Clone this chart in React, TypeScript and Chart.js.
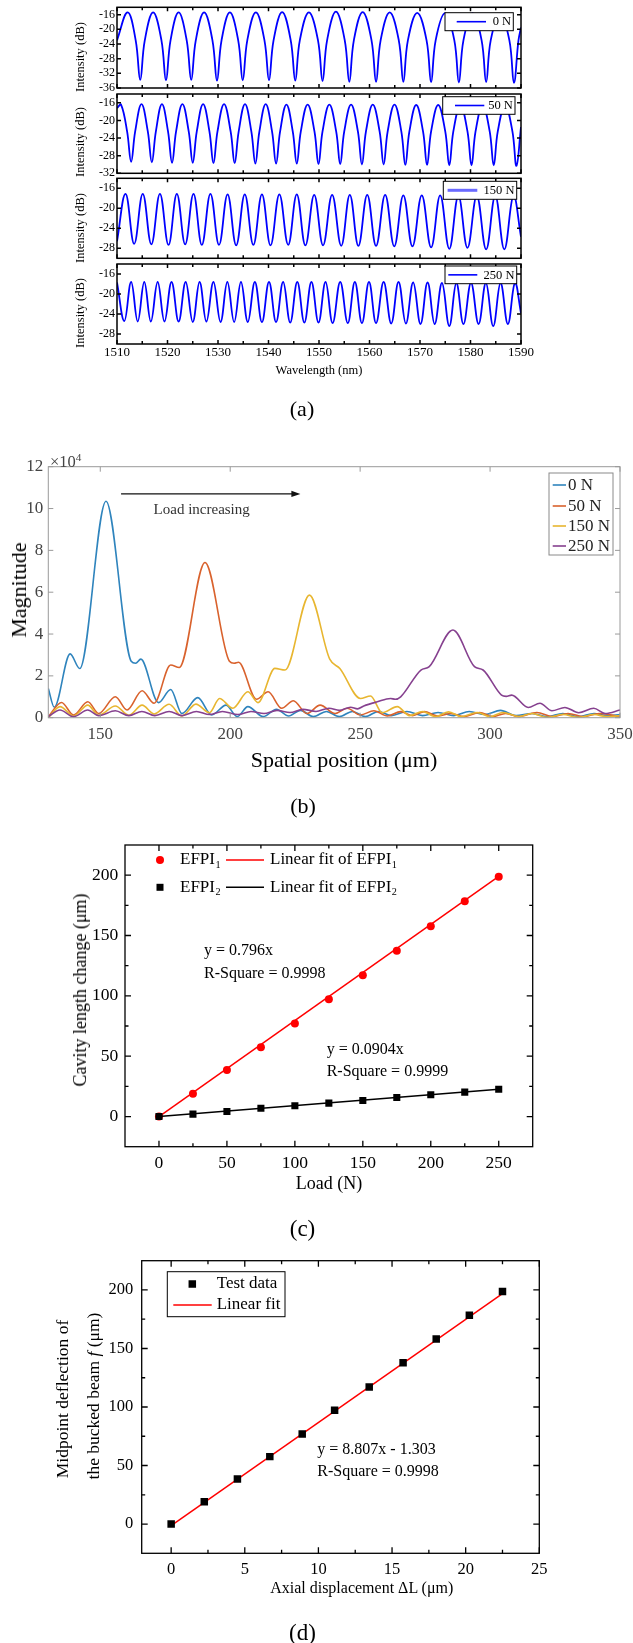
import React, { useEffect, useRef } from 'react';
import { Chart, registerables } from 'chart.js';
Chart.register(...registerables);

const SERIF = "'Liberation Serif', 'Times New Roman', serif";

// ---------------- Panel (a): transmission spectra [wavelength (nm), intensity (dB)]
const A_0N: [number, number][] = [
  [1510, -23.0], [1512.1, -15.4], [1513.7, -23.0], [1514.6, -33.8], [1515.5, -23.0], [1517.15, -15.4],
  [1518.8, -23.0], [1519.7, -33.9], [1520.6, -23.0], [1522.2, -15.4], [1523.8, -23.0], [1524.7, -33.8],
  [1525.6, -23.0], [1527.25, -15.4], [1528.9, -23.0], [1529.8, -34.0], [1530.7, -23.0], [1532.35, -15.4],
  [1534.0, -23.0], [1534.9, -33.9], [1535.8, -23.0], [1537.5, -15.4], [1539.2, -23.0], [1540.1, -33.9],
  [1541.0, -23.0], [1542.7, -15.3], [1544.4, -23.0], [1545.3, -34.0], [1546.2, -23.0], [1548.0, -15.4],
  [1549.8, -23.0], [1550.7, -34.1], [1551.6, -23.0], [1553.35, -15.2], [1555.1, -23.0], [1556.0, -34.3],
  [1556.9, -23.0], [1558.65, -15.3], [1560.4, -23.0], [1561.3, -34.3], [1562.2, -23.0], [1564.0, -15.4],
  [1565.8, -23.0], [1566.7, -34.3], [1567.6, -23.0], [1569.45, -15.5], [1571.3, -23.0], [1572.2, -34.4],
  [1573.1, -23.0], [1574.95, -15.6], [1576.8, -23.0], [1577.7, -34.5], [1578.6, -23.0], [1580.4, -15.6],
  [1582.2, -23.0], [1583.1, -34.4], [1584.0, -23.0], [1585.85, -15.7], [1587.7, -23.0], [1588.6, -34.6],
  [1589.5, -23.0], [1590, -19.5],
];
const A_50N: [number, number][] = [
  [1510, -17.2], [1510.8, -16.4], [1512.0, -22.5], [1512.8, -29.4], [1513.6, -22.5], [1514.85, -16.3],
  [1516.1, -22.5], [1516.9, -29.5], [1517.7, -22.5], [1518.9, -16.3], [1520.1, -22.5], [1520.9, -29.6],
  [1521.7, -22.5], [1522.95, -16.3], [1524.2, -22.5], [1525.0, -29.6], [1525.8, -22.5], [1527.05, -16.3],
  [1528.3, -22.5], [1529.1, -29.7], [1529.9, -22.5], [1531.2, -16.3], [1532.5, -22.5], [1533.3, -29.7],
  [1534.1, -22.5], [1535.35, -16.3], [1536.6, -22.5], [1537.4, -29.8], [1538.2, -22.5], [1539.45, -16.3],
  [1540.7, -22.5], [1541.5, -29.8], [1542.3, -22.5], [1543.55, -16.4], [1544.8, -22.5], [1545.6, -29.8],
  [1546.4, -22.5], [1547.75, -16.4], [1549.1, -22.5], [1549.9, -29.9], [1550.7, -22.5], [1552.05, -16.4],
  [1553.4, -22.5], [1554.2, -29.9], [1555.0, -22.5], [1556.35, -16.4], [1557.7, -22.5], [1558.5, -30.0],
  [1559.3, -22.5], [1560.65, -16.4], [1562.0, -22.5], [1562.8, -30.0], [1563.6, -22.5], [1564.95, -16.4],
  [1566.3, -22.5], [1567.1, -30.1], [1567.9, -22.5], [1569.25, -16.5], [1570.6, -22.5], [1571.4, -30.1],
  [1572.2, -22.5], [1573.6, -16.5], [1575.0, -22.5], [1575.8, -30.2], [1576.6, -22.5], [1578.0, -16.5],
  [1579.4, -22.5], [1580.2, -30.2], [1581.0, -22.5], [1582.4, -16.5], [1583.8, -22.5], [1584.6, -30.2],
  [1585.4, -22.5], [1586.85, -16.5], [1588.3, -22.5], [1589.1, -30.3], [1590, -21.5],
];
const A_150N: [number, number][] = [
  [1510, -26.6], [1511.7, -17.1], [1513.4, -27.1], [1515.1, -17.1], [1516.8, -27.2], [1518.5, -17.1],
  [1520.2, -27.3], [1521.85, -17.1], [1523.5, -27.2], [1525.15, -17.1], [1526.8, -27.3], [1528.5, -17.1],
  [1530.2, -27.3], [1531.9, -17.2], [1533.6, -27.4], [1535.3, -17.2], [1537.0, -27.3], [1538.7, -17.2],
  [1540.4, -27.4], [1542.15, -17.2], [1543.9, -27.3], [1545.6, -17.2], [1547.3, -27.4], [1549.05, -17.3],
  [1550.8, -27.4], [1552.6, -17.3], [1554.4, -27.5], [1556.1, -17.3], [1557.8, -27.5], [1559.55, -17.3],
  [1561.3, -27.5], [1563.1, -17.3], [1564.9, -27.6], [1566.7, -17.4], [1568.5, -27.6], [1570.35, -17.4],
  [1572.2, -27.8], [1574.0, -17.4], [1575.8, -28.1], [1577.6, -17.5], [1579.4, -27.9], [1581.25, -17.5],
  [1583.1, -28.2], [1584.9, -17.5], [1586.7, -28.2], [1588.5, -17.5], [1590, -25.7],
];
const A_250N: [number, number][] = [
  [1510, -17.7], [1511.45, -25.4], [1512.8, -17.6], [1514.1, -25.5], [1515.4, -17.6], [1516.7, -25.5],
  [1518.05, -17.6], [1519.4, -25.5], [1520.8, -17.6], [1522.2, -25.5], [1523.6, -17.6], [1525.0, -25.6],
  [1526.35, -17.6], [1527.7, -25.5], [1529.1, -17.6], [1530.5, -25.6], [1531.85, -17.6], [1533.2, -25.6],
  [1534.55, -17.6], [1535.9, -25.6], [1537.3, -17.6], [1538.7, -25.6], [1540.1, -17.6], [1541.5, -25.6],
  [1542.9, -17.6], [1544.3, -25.7], [1545.7, -17.6], [1547.1, -25.7], [1548.5, -17.6], [1549.9, -25.7],
  [1551.3, -17.6], [1552.7, -25.8], [1554.2, -17.6], [1555.7, -25.8], [1557.1, -17.6], [1558.5, -25.8],
  [1559.9, -17.6], [1561.3, -25.8], [1562.8, -17.6], [1564.3, -25.9], [1565.75, -17.6], [1567.2, -25.9],
  [1568.65, -17.7], [1570.1, -26.0], [1571.5, -17.7], [1572.9, -26.0], [1574.35, -17.8], [1575.8, -26.4],
  [1577.2, -17.8], [1578.6, -26.0], [1580.1, -17.8], [1581.6, -26.0], [1583.05, -17.8], [1584.5, -26.4],
  [1585.95, -17.8], [1587.4, -26.0], [1588.8, -17.8], [1590, -23.8],
];
const A_SERIES = [A_0N, A_50N, A_150N, A_250N];
const A_LABELS = ['0 N', '50 N', '150 N', '250 N'];
const A_YMIN = [-36, -32, -30, -30];
const A_YMAX = [-14, -14, -14, -14];
const A_YTICKS = [
  [-16, -20, -24, -28, -32, -36],
  [-16, -20, -24, -28, -32],
  [-16, -20, -24, -28],
  [-16, -20, -24, -28],
];
const A_XTICKS = [1510, 1520, 1530, 1540, 1550, 1560, 1570, 1580, 1590];
const A_XMINOR = [1515, 1525, 1535, 1545, 1555, 1565, 1575, 1585];

// ---------------- Panel (b): FFT magnitude [spatial position (um), magnitude (x1e4)]
const B_0N: [number, number][] = [
  [130, 1.4], [132.3, 0.5], [138.4, 3.05], [142.1, 2.35], [152.2, 10.35], [161.9, 2.7], [163.6, 2.6],
  [165.6, 2.8], [172.4, 0.72], [177.1, 1.35], [181.4, 0.2], [187.5, 0.96], [192.9, 0.13], [198.4, 0.6],
  [202.7, 0.05], [206.8, 0.53], [212.7, 0.05], [217.8, 0.4], [222.5, 0.08], [227, 0.35], [232, 0.05],
  [237, 0.3], [242, 0.05], [247, 0.3], [252, 0.05], [257, 0.3], [262, 0.1], [268, 0.3], [274, 0.1],
  [280, 0.25], [286, 0.1], [292, 0.3], [298, 0.15], [304, 0.35], [310, 0.1], [316, 0.2], [322, 0.05],
  [328, 0.2], [334, 0.05], [340, 0.2], [345, 0.1], [350, 0.15],
];
const B_50N: [number, number][] = [
  [130, 0.05], [135.1, 0.73], [139.7, 0.13], [145.2, 0.76], [149.4, 0.2], [155.8, 1.0], [160.3, 0.37],
  [166.1, 1.29], [170.7, 0.69], [177.1, 2.52], [180.4, 2.4], [190.3, 7.42], [199.7, 2.7], [201.5, 2.6],
  [203.2, 2.65], [210.1, 0.88], [214.6, 1.24], [219.8, 0.45], [224.3, 0.81], [229.5, 0.2], [234.6, 0.6],
  [240.4, 0.2], [245, 0.45], [250.1, 0.13], [255.3, 0.33], [260.5, 0.08], [265.6, 0.29], [270.2, 0.1],
  [274.7, 0.29], [279.8, 0.08], [285, 0.2], [290, 0.05], [296, 0.25], [301, 0.05], [306, 0.2],
  [311, 0.05], [318, 0.25], [324, 0.05], [330, 0.2], [336, 0.05], [342, 0.2], [350, 0.05],
];
const B_150N: [number, number][] = [
  [130, 0.0], [134.5, 0.53], [139.7, 0.08], [145.2, 0.6], [149.4, 0.12], [155.8, 0.56], [161, 0.12],
  [166.1, 0.6], [170.7, 0.18], [176.5, 0.64], [181.4, 0.08], [186.8, 0.65], [192, 0.24], [195.9, 0.92],
  [201, 0.45], [206.8, 1.24], [210.7, 0.72], [217.2, 2.36], [221.1, 2.28], [230.5, 5.86], [238.3, 2.8],
  [242.2, 2.35], [250.1, 0.92], [254, 1.04], [258.5, 0.24], [264.3, 0.53], [269, 0.1], [274, 0.3],
  [279, 0.05], [284, 0.28], [289, 0.05], [295, 0.25], [300, 0.05], [305, 0.25], [311, 0.05], [316, 0.2],
  [322, 0.02], [328, 0.15], [334, 0.02], [340, 0.15], [345, 0.05], [350, 0.1],
];
const B_250N: [number, number][] = [
  [130, 0.05], [134.5, 0.37], [139.7, 0.05], [145.2, 0.37], [149.4, 0.1], [155.8, 0.33], [161, 0.1],
  [166, 0.3], [171, 0.1], [176.5, 0.3], [181.5, 0.1], [187, 0.3], [192, 0.15], [197, 0.3], [203, 0.15],
  [208, 0.3], [213, 0.2], [218, 0.35], [223, 0.25], [228, 0.4], [233, 0.3], [238, 0.45], [242, 0.35],
  [246.3, 0.5], [249, 0.42], [251.4, 0.56], [256.6, 0.76], [261.7, 0.92], [263.5, 0.88], [265.6, 1.0],
  [273.4, 2.28], [276.6, 2.44], [285.7, 4.19], [294, 2.44], [297.3, 2.28], [304.4, 1.08], [306.2, 1.02],
  [308.3, 1.08], [314.7, 0.49], [319.2, 0.69], [323.8, 0.33], [328.8, 0.49], [334.1, 0.24], [339.9, 0.45],
  [344.3, 0.2], [350, 0.37],
];
const B_SERIES = [B_0N, B_50N, B_150N, B_250N];
const B_LABELS = ['0 N', '50 N', '150 N', '250 N'];
const B_COLORS = ['#2f84bd', '#d9622d', '#e8b630', '#86418f'];
const B_XTICKS = [150, 200, 250, 300, 350];
const B_YTICKS = [0, 2, 4, 6, 8, 10, 12];
const B_ARROW_X = [158, 227];
const B_ARROW_Y = 10.7;

// ---------------- Panel (c): cavity length change vs load
const C_LOAD = [0, 25, 50, 75, 100, 125, 150, 175, 200, 225, 250];
const C_EFPI1 = [0, 18.8, 38.6, 57.4, 77.0, 97.2, 117.0, 137.4, 157.6, 178.3, 198.7];
const C_EFPI2 = [0, 2.0, 4.1, 6.9, 8.9, 11.1, 13.3, 15.7, 18.0, 20.2, 22.6];
const C_FIT_X = [0, 250];
const C_FIT1_Y = [0, 199.0];
const C_FIT2_Y = [0, 22.6];
const C_XTICKS = [0, 50, 100, 150, 200, 250];
const C_XMINOR = [25, 75, 125, 175, 225];
const C_YTICKS = [0, 50, 100, 150, 200];
const C_YMINOR = [25, 75, 125, 175];

// ---------------- Panel (d): midpoint deflection vs axial displacement
const D_DISP = [0, 2.25, 4.5, 6.7, 8.9, 11.1, 13.45, 15.75, 18.0, 20.25, 22.5];
const D_DEFL = [0, 19.0, 38.5, 57.6, 77.0, 97.2, 117.1, 137.8, 158.0, 178.3, 198.6];
const D_FIT_X = [0, 22.5];
const D_FIT_Y = [-1.3, 196.8];
const D_XTICKS = [0, 5, 10, 15, 20, 25];
const D_XMINOR = [2.5, 7.5, 12.5, 17.5, 22.5];
const D_YTICKS = [0, 50, 100, 150, 200];
const D_YMINOR = [25, 75, 125, 175];

// ---------------- helpers
const scale = (min: number, max: number, vals: number[], size: number, color: string, pad: number,
  fix: (s: any) => void, display = true) => ({
  type: 'linear', min, max, display,
  afterBuildTicks: (s: any) => { s.ticks = vals.map((v) => ({ value: v })); },
  ticks: {
    font: { size, family: SERIF }, color, padding: pad, autoSkip: false, maxRotation: 0, minRotation: 0,
    includeBounds: false, callback: (v: any) => String(v),
  },
  grid: { display: false, drawTicks: false },
  border: { display: false },
  afterFit: (s: any) => { fix(s); s.paddingTop = 0; s.paddingBottom = 0; s.paddingLeft = 0; s.paddingRight = 0; },
});

const decor = (cfg: any) => ({
  id: 'decor',
  afterDatasetsDraw(chart: any) {
    const { ctx, chartArea: a } = chart;
    const xs = chart.scales.x, ys = chart.scales.y;
    ctx.save();
    ctx.strokeStyle = cfg.color;
    ctx.lineWidth = cfg.width;
    ctx.beginPath();
    const xt = (vals: number[], len: number) => vals.forEach((v) => {
      const p = xs.getPixelForValue(v);
      ctx.moveTo(p, a.bottom); ctx.lineTo(p, a.bottom - len);
      ctx.moveTo(p, a.top); ctx.lineTo(p, a.top + len);
    });
    const yt = (vals: number[], len: number) => vals.forEach((v) => {
      const p = ys.getPixelForValue(v);
      ctx.moveTo(a.left, p); ctx.lineTo(a.left + len, p);
      ctx.moveTo(a.right, p); ctx.lineTo(a.right - len, p);
    });
    xt(cfg.xMajor || [], cfg.major); xt(cfg.xMinor || [], cfg.minor);
    yt(cfg.yMajor || [], cfg.major); yt(cfg.yMinor || [], cfg.minor);
    ctx.stroke();
    ctx.strokeRect(a.left, a.top, a.right - a.left, a.bottom - a.top);
    ctx.restore();
    if (cfg.extra) { ctx.save(); cfg.extra(ctx, a, xs, ys); ctx.restore(); }
  },
});

const pts = (s: [number, number][]) => s.map(([x, y]) => ({ x, y }));
const zip = (xs: number[], ys: number[]) => xs.map((x, i) => ({ x, y: ys[i] }));

const baseOpts = (padding: any, scales: any) => ({
  responsive: false, maintainAspectRatio: false, animation: false, events: [],
  layout: { padding },
  plugins: { legend: { display: false }, tooltip: { enabled: false }, title: { display: false } },
  scales,
});

// legend boxes of panel (a) (box geometry relative to plot area)
const A_LEG = [
  { r: 7.7, t: 5.4, w: 68.3, h: 18, l0: 11.7, l1: 41, thick: false },
  { r: 6, t: 2.7, w: 72.3, h: 17.6, l0: 12.3, l1: 41.6, thick: false },
  { r: 4.3, t: 3, w: 73.4, h: 18, l0: 4.3, l1: 34, thick: true },
  { r: 4.3, t: 2, w: 71.7, h: 17.7, l0: 3.3, l1: 32.3, thick: false },
];
const A_AREA = [
  { top: 0, h: 92, pt: 7.3, pb: 4 },
  { top: 90, h: 88, pt: 4, pb: 4.7 },
  { top: 175, h: 88, pt: 3.3, pb: 4.7 },
  { top: 260, h: 104, pt: 4, pb: 0 },
];

const makeA = (i: number) => () => {
  const L = A_LEG[i];
  const last = i === 3;
  return {
    type: 'line',
    data: { datasets: [{ data: pts(A_SERIES[i]), borderColor: '#0000ff', borderWidth: 1.8, pointRadius: 0, tension: 0.4, fill: false }] },
    options: baseOpts({ left: 0, right: 112, top: A_AREA[i].pt, bottom: A_AREA[i].pb }, {
      x: scale(1510, 1590, A_XTICKS, 13, '#000', 1, (s) => { s.height = last ? 20 : 0; }, last),
      y: scale(A_YMIN[i], A_YMAX[i], A_YTICKS[i], 12, '#000', 2, (s) => { s.width = 117; }),
    }),
    plugins: [decor({
      color: '#000', width: 1.5, major: 4, minor: 3, xMajor: A_XTICKS, xMinor: A_XMINOR, yMajor: A_YTICKS[i],
      extra: (ctx: any, a: any) => {
        const bx = a.right - L.r - L.w, by = a.top + L.t;
        ctx.fillStyle = '#fff'; ctx.fillRect(bx, by, L.w, L.h);
        ctx.strokeStyle = '#000'; ctx.lineWidth = 1; ctx.strokeRect(bx, by, L.w, L.h);
        ctx.strokeStyle = L.thick ? '#6a6aff' : '#0000ff'; ctx.lineWidth = L.thick ? 3 : 1.6;
        ctx.beginPath(); ctx.moveTo(bx + L.l0, by + L.h / 2); ctx.lineTo(bx + L.l1, by + L.h / 2); ctx.stroke();
        ctx.fillStyle = '#000'; ctx.font = `12.5px ${SERIF}`; ctx.textAlign = 'right'; ctx.textBaseline = 'middle';
        ctx.fillText(A_LABELS[i], bx + L.w - 2.2, by + L.h / 2 + 0.5);
      },
    })],
  };
};

const makeB = () => ({
  type: 'line',
  data: {
    datasets: B_SERIES.map((s, k) => ({
      data: pts(s), borderColor: B_COLORS[k], borderWidth: 1.6, pointRadius: 0,
      cubicInterpolationMode: 'monotone', fill: false, order: 3 - k,
    })),
  },
  options: baseOpts({ left: 0, right: 13, top: 26.7, bottom: 0 }, {
    x: scale(130, 350, B_XTICKS, 17, '#444', 7.1, (s) => { s.height = 82.3; }),
    y: scale(0, 12, B_YTICKS, 17, '#444', 5, (s) => { s.width = 48.3; }),
  }),
  plugins: [decor({
    color: '#9a9a9a', width: 1, major: 5, minor: 0, xMajor: B_XTICKS, yMajor: B_YTICKS,
    extra: (ctx: any, a: any, xs: any, ys: any) => {
      const y = ys.getPixelForValue(B_ARROW_Y);
      const x0 = xs.getPixelForValue(B_ARROW_X[0]), x1 = xs.getPixelForValue(B_ARROW_X[1]);
      ctx.strokeStyle = '#111'; ctx.fillStyle = '#111'; ctx.lineWidth = 1.3;
      ctx.beginPath(); ctx.moveTo(x0, y); ctx.lineTo(x1 - 6, y); ctx.stroke();
      ctx.beginPath(); ctx.moveTo(x1, y); ctx.lineTo(x1 - 9, y - 3.2); ctx.lineTo(x1 - 9, y + 3.2); ctx.closePath(); ctx.fill();
      const w = 64, h = 82, bx = a.right - 7 - w, by = a.top + 6.3;
      ctx.fillStyle = '#fff'; ctx.fillRect(bx, by, w, h);
      ctx.strokeStyle = '#8a8a8a'; ctx.lineWidth = 1; ctx.strokeRect(bx, by, w, h);
      const rows = [12, 33, 53, 73];
      ctx.font = `17px ${SERIF}`; ctx.textAlign = 'left'; ctx.textBaseline = 'middle';
      B_LABELS.forEach((lab, k) => {
        const ry = by + rows[k];
        ctx.strokeStyle = B_COLORS[k]; ctx.lineWidth = 1.6;
        ctx.beginPath(); ctx.moveTo(bx + 3.7, ry); ctx.lineTo(bx + 17, ry); ctx.stroke();
        ctx.fillStyle = '#222'; ctx.fillText(lab, bx + 19, ry + 0.5);
      });
    },
  })],
});

const sub = (ctx: any, main: string, s: string, x: number, y: number, size: number) => {
  ctx.font = `${size}px ${SERIF}`;
  ctx.fillText(main, x, y);
  const w = ctx.measureText(main).width;
  ctx.font = `${size * 0.6}px ${SERIF}`;
  ctx.fillText(s, x + w + 0.5, y + size * 0.32);
};

const makeC = () => ({
  type: 'line',
  data: {
    datasets: [
      { data: zip(C_LOAD, C_EFPI2), showLine: false, pointStyle: 'rect', pointRadius: 5, pointBorderWidth: 0,
        pointBackgroundColor: '#000', borderColor: '#000', order: 0 },
      { data: zip(C_FIT_X, C_FIT2_Y), borderColor: '#000', borderWidth: 1.5, pointRadius: 0, order: 1 },
      { data: zip(C_LOAD, C_EFPI1), showLine: false, pointStyle: 'circle', pointRadius: 4, pointBorderWidth: 0,
        pointBackgroundColor: '#ff0000', borderColor: '#ff0000', order: 2 },
      { data: zip(C_FIT_X, C_FIT1_Y), borderColor: '#ff0000', borderWidth: 1.5, pointRadius: 0, order: 3 },
    ],
  },
  options: baseOpts({ left: 0, right: 100.3, top: 25, bottom: 0 }, {
    x: scale(-25, 275, C_XTICKS, 17.5, '#000', 6.1, (s) => { s.height = 33.3; }),
    y: scale(-25, 225, C_YTICKS, 17.5, '#000', 6.7, (s) => { s.width = 125; }),
  }),
  plugins: [decor({
    color: '#000', width: 1.3, major: 6, minor: 3.5, xMajor: C_XTICKS, xMinor: C_XMINOR, yMajor: C_YTICKS, yMinor: C_YMINOR,
    extra: (ctx: any, a: any) => {
      const rows = [
        { y: a.top + 15, c: '#ff0000', m: 'circle', s: '1' },
        { y: a.top + 42.3, c: '#000', m: 'rect', s: '2' },
      ];
      ctx.textAlign = 'left'; ctx.textBaseline = 'middle';
      rows.forEach((r) => {
        ctx.fillStyle = r.c;
        const mx = a.left + 35;
        if (r.m === 'circle') { ctx.beginPath(); ctx.arc(mx, r.y, 4, 0, Math.PI * 2); ctx.fill(); }
        else ctx.fillRect(mx - 3.5, r.y - 3.5, 7, 7);
        ctx.strokeStyle = r.c; ctx.lineWidth = 1.5;
        ctx.beginPath(); ctx.moveTo(a.left + 101, r.y); ctx.lineTo(a.left + 139, r.y); ctx.stroke();
        ctx.fillStyle = '#000';
        sub(ctx, 'EFPI', r.s, a.left + 55, r.y, 17);
        sub(ctx, 'Linear fit of EFPI', r.s, a.left + 145, r.y, 17);
      });
    },
  })],
});

const makeD = () => ({
  type: 'line',
  data: {
    datasets: [
      { data: zip(D_DISP, D_DEFL), showLine: false, pointStyle: 'rect', pointRadius: 5.3, pointBorderWidth: 0,
        pointBackgroundColor: '#000', borderColor: '#000', order: 0 },
      { data: zip(D_FIT_X, D_FIT_Y), borderColor: '#ff0000', borderWidth: 1.5, pointRadius: 0, order: 1 },
    ],
  },
  options: baseOpts({ left: 0, right: 93.7, top: 10.7, bottom: 0 }, {
    x: scale(-2, 25, D_XTICKS, 16.5, '#000', 6.8, (s) => { s.height = 36.7; }),
    y: scale(-25, 225, D_YTICKS, 16.5, '#000', 8.4, (s) => { s.width = 141.7; }),
  }),
  plugins: [decor({
    color: '#000', width: 1.3, major: 6, minor: 3.5, xMajor: D_XTICKS, xMinor: D_XMINOR, yMajor: D_YTICKS, yMinor: D_YMINOR,
    extra: (ctx: any, a: any) => {
      const bx = a.left + 25.6, by = a.top + 11, w = 117.7, h = 45;
      ctx.fillStyle = '#fff'; ctx.fillRect(bx, by, w, h);
      ctx.strokeStyle = '#000'; ctx.lineWidth = 1; ctx.strokeRect(bx, by, w, h);
      ctx.fillStyle = '#000'; ctx.fillRect(bx + 25 - 3.75, by + 12.3 - 3.75, 7.5, 7.5);
      ctx.strokeStyle = '#ff0000'; ctx.lineWidth = 1.5;
      ctx.beginPath(); ctx.moveTo(bx + 6, by + 33.3); ctx.lineTo(bx + 44.4, by + 33.3); ctx.stroke();
      ctx.font = `17px ${SERIF}`; ctx.textAlign = 'left'; ctx.textBaseline = 'middle'; ctx.fillStyle = '#000';
      ctx.fillText('Test data', bx + 49.4, by + 12.3);
      ctx.fillText('Linear fit', bx + 49.4, by + 33.3);
    },
  })],
});

function ChartCanvas({ left, top, width, height, make }: any) {
  const ref = useRef<HTMLCanvasElement | null>(null);
  useEffect(() => {
    const chart = new Chart(ref.current as HTMLCanvasElement, make());
    return () => chart.destroy();
  }, []);
  return <canvas ref={ref} width={width} height={height} style={{ position: 'absolute', left, top, width, height }} />;
}

type T = { t: React.ReactNode; x: number; y: number; s: number; r?: boolean; left?: boolean; c?: string };
const TEXTS: T[] = [
  { t: 'Intensity (dB)', x: 79.5, y: 57, s: 12.5, r: true },
  { t: 'Intensity (dB)', x: 79.5, y: 141.7, s: 12.5, r: true },
  { t: 'Intensity (dB)', x: 79.5, y: 227.5, s: 12.5, r: true },
  { t: 'Intensity (dB)', x: 79.5, y: 312.8, s: 12.5, r: true },
  { t: 'Wavelength (nm)', x: 319, y: 370, s: 12.5 },
  { t: '(a)', x: 302, y: 409, s: 22 },
  { t: 'Magnitude', x: 19.2, y: 590, s: 22, r: true },
  { t: 'Spatial position (μm)', x: 344, y: 760, s: 22 },
  { t: <span>×10<sup style={{ fontSize: '0.68em', verticalAlign: '0.55em' }}>4</sup></span>, x: 50, y: 461, s: 16.5, left: true, c: '#444' },
  { t: 'Load increasing', x: 201.7, y: 509, s: 15, c: '#333' },
  { t: '(b)', x: 303, y: 806, s: 22 },
  { t: 'Cavity length change (μm)', x: 80, y: 990, s: 18, r: true },
  { t: 'Load (N)', x: 329, y: 1183, s: 18 },
  { t: 'y = 0.796x', x: 204, y: 950, s: 16, left: true },
  { t: 'R-Square = 0.9998', x: 204, y: 972.7, s: 16, left: true },
  { t: 'y = 0.0904x', x: 326.7, y: 1049.3, s: 16, left: true },
  { t: 'R-Square = 0.9999', x: 326.7, y: 1070.7, s: 16, left: true },
  { t: '(c)', x: 302.5, y: 1227.5, s: 23 },
  { t: 'Midpoint deflection of', x: 63.3, y: 1399, s: 17.5, r: true },
  { t: <span>the bucked beam <i>f</i> (μm)</span>, x: 94, y: 1396, s: 17.5, r: true },
  { t: 'Axial displacement ΔL (μm)', x: 361.7, y: 1588.3, s: 16 },
  { t: 'y = 8.807x - 1.303', x: 317.3, y: 1449.3, s: 16, left: true },
  { t: 'R-Square = 0.9998', x: 317.3, y: 1470.7, s: 16, left: true },
  { t: '(d)', x: 302.5, y: 1632, s: 23 },
];

function Label({ t, x, y, s, r, left, c }: T) {
  const tx = left ? '0' : '-50%';
  return (
    <div style={{
      position: 'absolute', left: x, top: y, transform: `translate(${tx},-50%)${r ? ' rotate(-90deg)' : ''}`,
      fontFamily: SERIF, fontSize: s, lineHeight: 1, whiteSpace: 'nowrap', color: c || '#000',
    }}>{t}</div>
  );
}

export default function App() {
  return (
    <div style={{ position: 'absolute', left: 0, top: 0, width: 633, height: 1643, background: '#fff', overflow: 'hidden' }}>
      {A_AREA.map((ar, i) => (
        <ChartCanvas key={i} left={0} top={ar.top} width={633} height={ar.h} make={makeA(i)} />
      ))}
      <ChartCanvas left={0} top={440} width={633} height={360} make={makeB} />
      <ChartCanvas left={0} top={820} width={633} height={360} make={makeC} />
      <ChartCanvas left={0} top={1250} width={633} height={340} make={makeD} />
      {TEXTS.map((it, i) => <Label key={i} {...it} />)}
    </div>
  );
}
